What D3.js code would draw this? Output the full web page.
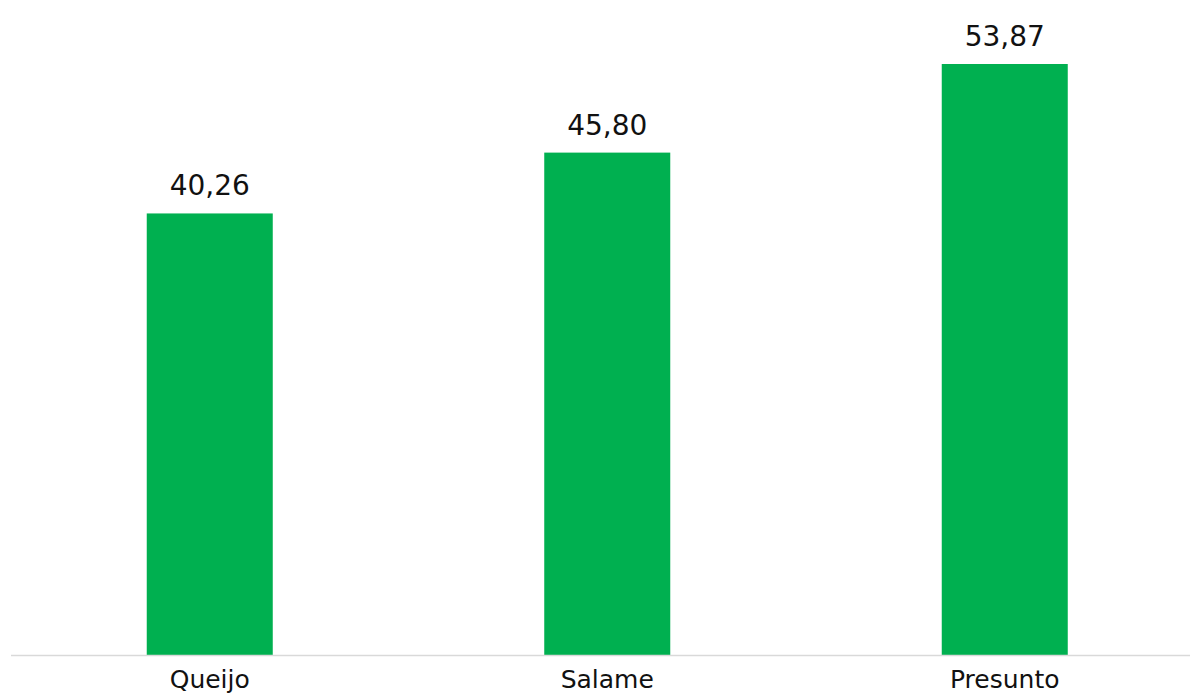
<!DOCTYPE html>
<html>
<head>
<meta charset="utf-8">
<script src="https://cdn.jsdelivr.net/npm/d3@7"></script>
<style>
  body { margin: 0; background: #fff; }
</style>
</head>
<body>
<div id="viz"></div>
<script>
const categories = ["Queijo", "Salame", "Presunto"];
const values = [40.26, 45.80, 53.87];
const valueLabels = ["40,26", "45,80", "53,87"];

document.addEventListener("DOMContentLoaded", () => {

    const width = 1190;
    const height = 695;
    const baseY = 655.5;

    const svg = d3.select("#viz").append("svg")
        .attr("width", width)
        .attr("height", height)
        .style("display", "block");

    const x = d3.scaleBand()
        .domain(categories)
        .range([11, 1203.5])
        .paddingInner(0.683)
        .paddingOuter(0.3415);

    const y = d3.scaleLinear()
        .domain([0, 53.87])
        .range([baseY, 64]);

    const data = categories.map((c, i) => ({ cat: c, value: values[i], label: valueLabels[i] }));

    svg.selectAll("rect.bar")
        .data(data)
        .enter()
        .append("rect")
        .attr("class", "bar")
        .attr("x", d => x(d.cat))
        .attr("y", d => y(d.value))
        .attr("width", x.bandwidth())
        .attr("height", d => baseY - y(d.value))
        .attr("fill", "#00B050");

    // baseline
    svg.append("line")
        .attr("x1", 11)
        .attr("x2", width)
        .attr("y1", baseY)
        .attr("y2", baseY)
        .attr("stroke", "#d9d9d9")
        .attr("stroke-width", 1.5);

    const font = "'DejaVu Sans', sans-serif";

    svg.selectAll("text.val")
        .data(data)
        .enter()
        .append("text")
        .attr("class", "val")
        .attr("x", d => x(d.cat) + x.bandwidth() / 2)
        .attr("y", d => y(d.value) - 18)
        .attr("text-anchor", "middle")
        .style("font-family", font)
        .style("font-size", "28px")
        .attr("fill", "#111")
        .text(d => d.label);

    svg.selectAll("text.cat")
        .data(data)
        .enter()
        .append("text")
        .attr("class", "cat")
        .attr("x", d => x(d.cat) + x.bandwidth() / 2)
        .attr("y", 688)
        .attr("text-anchor", "middle")
        .style("font-family", font)
        .style("font-size", "25px")
        .attr("fill", "#111")
        .text(d => d.cat);
});
</script>
</body>
</html>
